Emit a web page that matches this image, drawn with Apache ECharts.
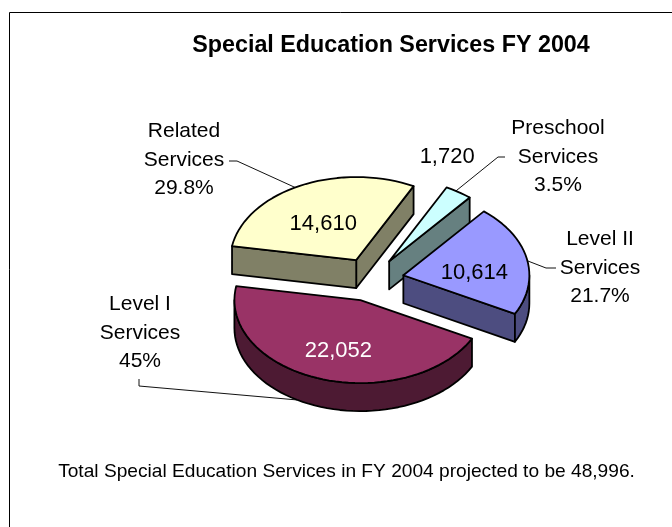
<!DOCTYPE html>
<html>
<head>
<meta charset="utf-8">
<style>html,body{margin:0;padding:0;background:#fff}#chart{width:672px;height:527px}</style>
<script src="https://cdn.jsdelivr.net/npm/echarts@6/dist/echarts.min.js"></script>
</head>
<body>
<div id="chart"></div>
<script>
// Service categories, in drawing order around the pie
const categories = ['Level I\nServices', 'Related\nServices', 'Preschool\nServices', 'Level II\nServices'];
const values = [22052, 14610, 1720, 10614];
const percents = ['45%', '29.8%', '3.5%', '21.7%'];
const topColors = ['#993366', '#FFFFCC', '#CCFFFF', '#9999FF'];
const sideColors = ['#4D1A33', '#808066', '#668080', '#4D4D80'];
const valueColors = ['#ffffff', '#000000', '#000000', '#000000'];

// Offsets of the value text from each slice's tip
const valueOffsets = [[-22, 51], [-33, -36], [58, -104], [71, -2]];
// Where each category block is centred
const labelCenters = [[140, 333], [184, 160], [558, 157], [600, 268]];
// Leader lines: rim angle in degrees, drop down the wall, then the free points out to the text
const leaders = [
  { rim: 120, drop: 28, points: [[139, 386], [139, 379]] },
  { rim: 241, drop: 0, points: [[237, 161], [229, 161]] },
  { rim: 302, drop: 0, points: [[498, 157], [505, 157]] },
  { rim: 350, drop: 0, points: [[546, 268], [556, 268]] }
];

const PIE = { cx: 371, cy: 279.5, rx: 126, ry: 83, explode: 33, depth: 28, startAngle: 27.7 };
const total = values.reduce((a, b) => a + b, 0);
const FONT = '"Liberation Sans", Arial, sans-serif';

function rad(d) { return d * Math.PI / 180; }

function sliceGeometry(i) {
  let start = PIE.startAngle;
  for (let k = 0; k < i; k++) start += values[k] / total * 360;
  const end = start + values[i] / total * 360;
  const mid = rad((start + end) / 2);
  const tip = [
    PIE.cx + PIE.explode * Math.cos(mid),
    PIE.cy + PIE.explode * Math.sin(mid) * PIE.ry / PIE.rx
  ];
  return { start, end, tip };
}

function rimPoint(g, deg, drop) {
  return [
    g.tip[0] + PIE.rx * Math.cos(rad(deg)),
    g.tip[1] + PIE.ry * Math.sin(rad(deg)) + (drop || 0)
  ];
}

function rimArc(g, from, to, drop) {
  const pts = [];
  const steps = Math.max(2, Math.ceil(Math.abs(to - from) / 3));
  for (let s = 0; s <= steps; s++) pts.push(rimPoint(g, from + (to - from) * s / steps, drop));
  return pts;
}

const edge = { stroke: '#000', lineWidth: 1.8, lineJoin: 'round' };

function renderSlice(params, api) {
  const i = api.value(0);
  const g = sliceGeometry(i);
  const under = [g.tip[0], g.tip[1] + PIE.depth];
  const side = Object.assign({ fill: sideColors[i] }, edge);
  const children = [];

  // Cut faces turned towards the viewer
  if (Math.cos(rad(g.end)) > 0) {
    const p = rimPoint(g, g.end), q = rimPoint(g, g.end, PIE.depth);
    children.push({ type: 'polygon', shape: { points: [g.tip, p, q, under] }, style: side });
  }
  if (-Math.cos(rad(g.start)) > 0) {
    const p = rimPoint(g, g.start), q = rimPoint(g, g.start, PIE.depth);
    children.push({ type: 'polygon', shape: { points: [g.tip, p, q, under] }, style: side });
  }

  // Outer wall, wherever the rim passes through the front half of the ellipse
  [[0, 180], [360, 540]].forEach(function (win) {
    const from = Math.max(g.start, win[0]);
    const to = Math.min(g.end, win[1]);
    if (to > from) {
      const pts = rimArc(g, from, to).concat(rimArc(g, to, from, PIE.depth));
      children.push({ type: 'polygon', shape: { points: pts }, style: side });
    }
  });

  // Top face
  children.push({
    type: 'polygon',
    shape: { points: [g.tip].concat(rimArc(g, g.start, g.end)) },
    style: Object.assign({ fill: topColors[i] }, edge)
  });

  // Value text
  const off = valueOffsets[i];
  children.push({
    type: 'text',
    style: {
      x: g.tip[0] + off[0], y: g.tip[1] + off[1],
      text: values[i].toLocaleString('en-US'),
      fill: valueColors[i],
      font: '22px ' + FONT,
      align: 'center', verticalAlign: 'middle'
    }
  });
  return { type: 'group', children: children };
}

function renderLabel(params, api) {
  const i = api.value(0);
  const g = sliceGeometry(i);
  const leader = leaders[i];
  const line = [rimPoint(g, leader.rim, leader.drop)].concat(leader.points);
  return {
    type: 'group',
    children: [
      { type: 'polyline', shape: { points: line }, style: { stroke: '#111', lineWidth: 1, fill: 'none' } },
      {
        type: 'text',
        style: {
          x: labelCenters[i][0], y: labelCenters[i][1],
          text: categories[i] + '\n' + percents[i],
          fill: '#000',
          font: '21px ' + FONT,
          lineHeight: 28.3,
          align: 'center', verticalAlign: 'middle'
        }
      }
    ]
  };
}

// Paint far slices first so that nearer ones overlap them
const paintOrder = [1, 2, 3, 0];

const chart = echarts.init(document.getElementById('chart'), null, { renderer: 'canvas' });
chart.setOption({
  animation: false,
  backgroundColor: '#fff',
  title: [
    {
      text: 'Special Education Services FY 2004',
      left: 386, top: 29, textAlign: 'center',
      textStyle: { fontFamily: FONT, fontWeight: 'bold', fontSize: 23.3, color: '#000' }
    },
    {
      text: 'Total Special Education Services in FY 2004 projected to be 48,996.',
      left: 341.5, top: 457, textAlign: 'center',
      textStyle: { fontFamily: FONT, fontWeight: 'normal', fontSize: 19.15, color: '#000' }
    }
  ],
  graphic: [{
    type: 'polyline',
    shape: { points: [[9.5, 527], [9.5, 12.5], [672, 12.5]] },
    style: { stroke: '#000', lineWidth: 1, fill: 'none' },
    silent: true
  }],
  series: [
    { type: 'custom', coordinateSystem: 'none', renderItem: renderLabel, data: paintOrder.map(i => [i]), z: 1, silent: true },
    { type: 'custom', coordinateSystem: 'none', renderItem: renderSlice, data: paintOrder.map(i => [i]), z: 2, silent: true }
  ]
});
</script>
</body>
</html>
